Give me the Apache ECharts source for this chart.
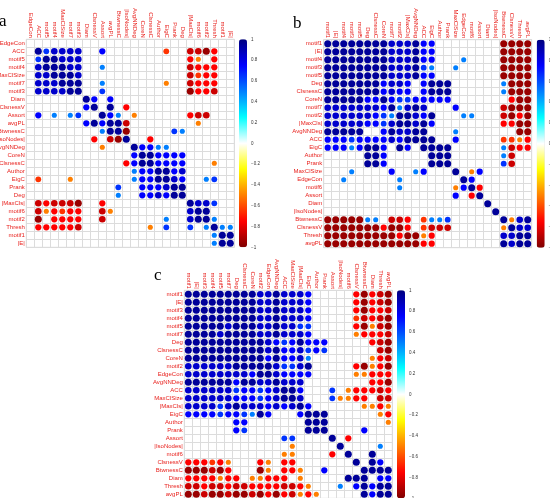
<!DOCTYPE html>
<html>
<head>
<meta charset="utf-8">
<script src="https://cdn.jsdelivr.net/npm/echarts@6/dist/echarts.min.js"></script>
<style>
html, body { margin: 0; padding: 0; background: #fff; }
#chart { width: 550px; height: 498px; }
</style>
</head>
<body>
<div id="chart"></div>
<script>
// variable order of each panel (rows top to bottom = columns left to right)
const varsA = ['EdgeCon', 'ACC', 'motif5', 'motif4', 'MaxClSize', 'motif7', 'motif3', 'Diam', 'ClsnessV', 'Assort',
  'avgPL', 'BtwnessC', '|IsoNodes|', 'AvgNNDeg', 'CoreN', 'ClsnessC', 'Author', 'EigC', 'Prank', 'Deg',
  '|MaxCls|', 'motif6', 'motif2', 'Thresh', 'motif1', '|E|'];
const varsB = ['motif1', '|E|', 'motif4', 'motif3', 'motif5', 'Deg', 'ClsnessC', 'CoreN', 'motif7', 'motif2',
  '|MaxCls|', 'AvgNNDeg', 'ACC', 'EigC', 'Author', 'Prank', 'MaxClSize', 'EdgeCon', 'motif6', 'Assort',
  'Diam', '|IsoNodes|', 'BtwnessC', 'ClsnessV', 'Thresh', 'avgPL'];
const varsC = ['motif1', '|E|', 'motif3', 'motif4', 'motif5', 'motif7', 'Deg', 'ClsnessC', 'CoreN', 'motif2',
  'EdgeCon', 'AvgNNDeg', 'ACC', 'MaxClSize', '|MaxCls|', 'EigC', 'Author', 'Prank', 'Assort', '|IsoNodes|',
  'motif6', 'ClsnessV', 'BtwnessC', 'Diam', 'Thresh', 'avgPL'];

// correlations, lower triangle row by row, one code per cell ('.' = no circle)
const corrA = [
  '.',
  '.9',
  '.69',
  '.899',
  '.8899',
  '.88899',
  '.888899',
  '.......9',
  '.......79',
  '.7.5.56..9',
  '.......7979',
  '.........599',
  '........g.hi9',
  '.........e...9',
  '.............79',
  '............g799',
  '.............5779',
  '.f...e.......57799',
  '...........6..77789',
  '...........5..778799',
  '.hghhhi..g..........9',
  '.hegfgg..he.........89',
  '.i.gggg..h.......5..899',
  '.gggggh........e.6..6.59',
  '.......................59',
  '.......................599'
];
const corrB = [
  '9',
  '99',
  '999',
  '9999',
  '99999',
  '999999',
  '9999999',
  '99999779',
  '888888879',
  '8888887659',
  '88888776899',
  '99999..79889',
  '7776777787999',
  '77757997.97.99',
  '.....997.....99',
  '.....997.....999',
  '...5....7..57...9',
  '..5......5.......9',
  '.........5......e79',
  '................7.g9',
  '....................9',
  '.....................9',
  'iiiii55.hhg.f556......9',
  'iiiiiiigiig.fhhh......e9',
  'iiiiiiiiigiieg........889',
  'iiiiiiiiiiiigg........9899'
];
const corrC = [
  '9',
  '99',
  '999',
  '9999',
  '99999',
  '999989',
  '9999999',
  '99999999',
  '999999999',
  '8888889999',
  '88888888799',
  '999999799889',
  '8888886776789',
  '88888877767899',
  '888868988878789',
  '77776776597...79',
  '......77.......99',
  '......76.......999',
  '............66....9',
  '.............e.....9',
  '............ee....g.9',
  'gggfge...ge.gg.......9',
  'iiihig...ie.gge..7....9',
  'ggggegg.eeggg.e.....999',
  'hhghhghhgggghhge...5.7979',
  'iihiihiihigighege.....97999'
];

// code -> correlation
const codeValue = { '9': 0.95, '8': 0.85, '7': 0.75, '6': 0.65, '5': 0.5,
  'e': -0.5, 'f': -0.65, 'g': -0.75, 'h': -0.85, 'i': -0.95 };

// corrplot col1 palette, from -1 to 1
const palette = ['#7F0000', '#FF0000', '#FF7F00', '#FFFF00', '#FFFFFF', '#00FFFF', '#007FFF', '#0000FF', '#00007F'];

const panels = [
  { name: 'a', vars: varsA, corr: corrA, left: 26.3, top: 39.3, barLeft: 239, letterX: -1, letterY: 13 },
  { name: 'b', vars: varsB, corr: corrB, left: 323.7, top: 39.7, barLeft: 536.7, letterX: 293, letterY: 15 },
  { name: 'c', vars: varsC, corr: corrC, left: 184.3, top: 290.3, barLeft: 397, letterX: 154, letterY: 267 }
];
const size = 208;
const cell = size / 26;
const labelColor = '#e8201c';
const gridColor = '#dcdcdc';
const labelFont = 6;

function cells(codes) {
  const out = [];
  codes.forEach((row, r) => {
    for (let c = 0; c < row.length; c++) {
      const v = codeValue[row[c]];
      if (v === undefined) continue;
      out.push([c, r, v]);
      if (c !== r) out.push([r, c, v]);
    }
  });
  return out;
}

function fmtTick(v) {
  const x = Math.round(v * 10) / 10;
  if (x === 0) return '0';
  return x < 0 ? '\u2212' + Math.abs(x) : String(x);
}

const grid = [], xAxis = [], yAxis = [], series = [], visualMap = [], graphic = [];

panels.forEach((p, i) => {
  grid.push({ left: p.left, top: p.top, width: size, height: size, show: true,
    borderColor: gridColor, borderWidth: 1, outerBoundsMode: 'none' });
  xAxis.push({
    type: 'category', gridIndex: i, data: p.vars, position: 'top',
    axisLine: { show: false }, axisTick: { show: false },
    splitLine: { show: true, interval: 0, lineStyle: { color: gridColor, width: 1 } },
    axisLabel: { interval: 0, rotate: 90, margin: 1.5, color: labelColor, fontSize: labelFont, fontFamily: 'Liberation Sans' }
  });
  yAxis.push({
    type: 'category', gridIndex: i, data: p.vars, inverse: true,
    axisLine: { show: false }, axisTick: { show: false },
    splitLine: { show: true, interval: 0, lineStyle: { color: gridColor, width: 1 } },
    axisLabel: { interval: 0, margin: 1.5, color: labelColor, fontSize: labelFont, fontFamily: 'Liberation Sans' }
  });
  series.push({
    type: 'scatter', xAxisIndex: i, yAxisIndex: i,
    data: cells(p.corr),
    symbolSize: d => 0.9 * Math.sqrt(Math.abs(d[2])) * cell,
    itemStyle: { opacity: 1 },
    silent: true
  });
  visualMap.push({
    type: 'continuous', seriesIndex: i, dimension: 2, min: -1, max: 1,
    calculable: false, hoverLink: false, text: null, padding: 0,
    left: p.barLeft, top: p.top, itemWidth: 8, itemHeight: size,
    inRange: { color: palette }
  });
  graphic.push({
    type: 'text', left: p.letterX, top: p.letterY,
    style: { text: p.name, font: '17px "Liberation Serif"', fill: '#000' }
  });
});

// colour bar tick labels
panels.forEach((p, i) => {
  const g = 3 + i;
  grid.push({ left: p.barLeft, top: p.top, width: 8, height: size, show: false, outerBoundsMode: 'none' });
  xAxis.push({ type: 'value', gridIndex: g, show: false });
  yAxis.push({
    type: 'value', gridIndex: g, min: -1, max: 1, interval: 0.2, position: 'right',
    axisLine: { show: false }, axisTick: { show: false }, splitLine: { show: false },
    axisLabel: { margin: 4, color: '#333', fontSize: 4.5, fontFamily: 'Liberation Sans', formatter: fmtTick }
  });
});

const chart = echarts.init(document.getElementById('chart'), null, { renderer: 'canvas' });
chart.setOption({
  animation: false,
  backgroundColor: '#fff',
  grid, xAxis, yAxis, series, visualMap, graphic
});
</script>
</body>
</html>
